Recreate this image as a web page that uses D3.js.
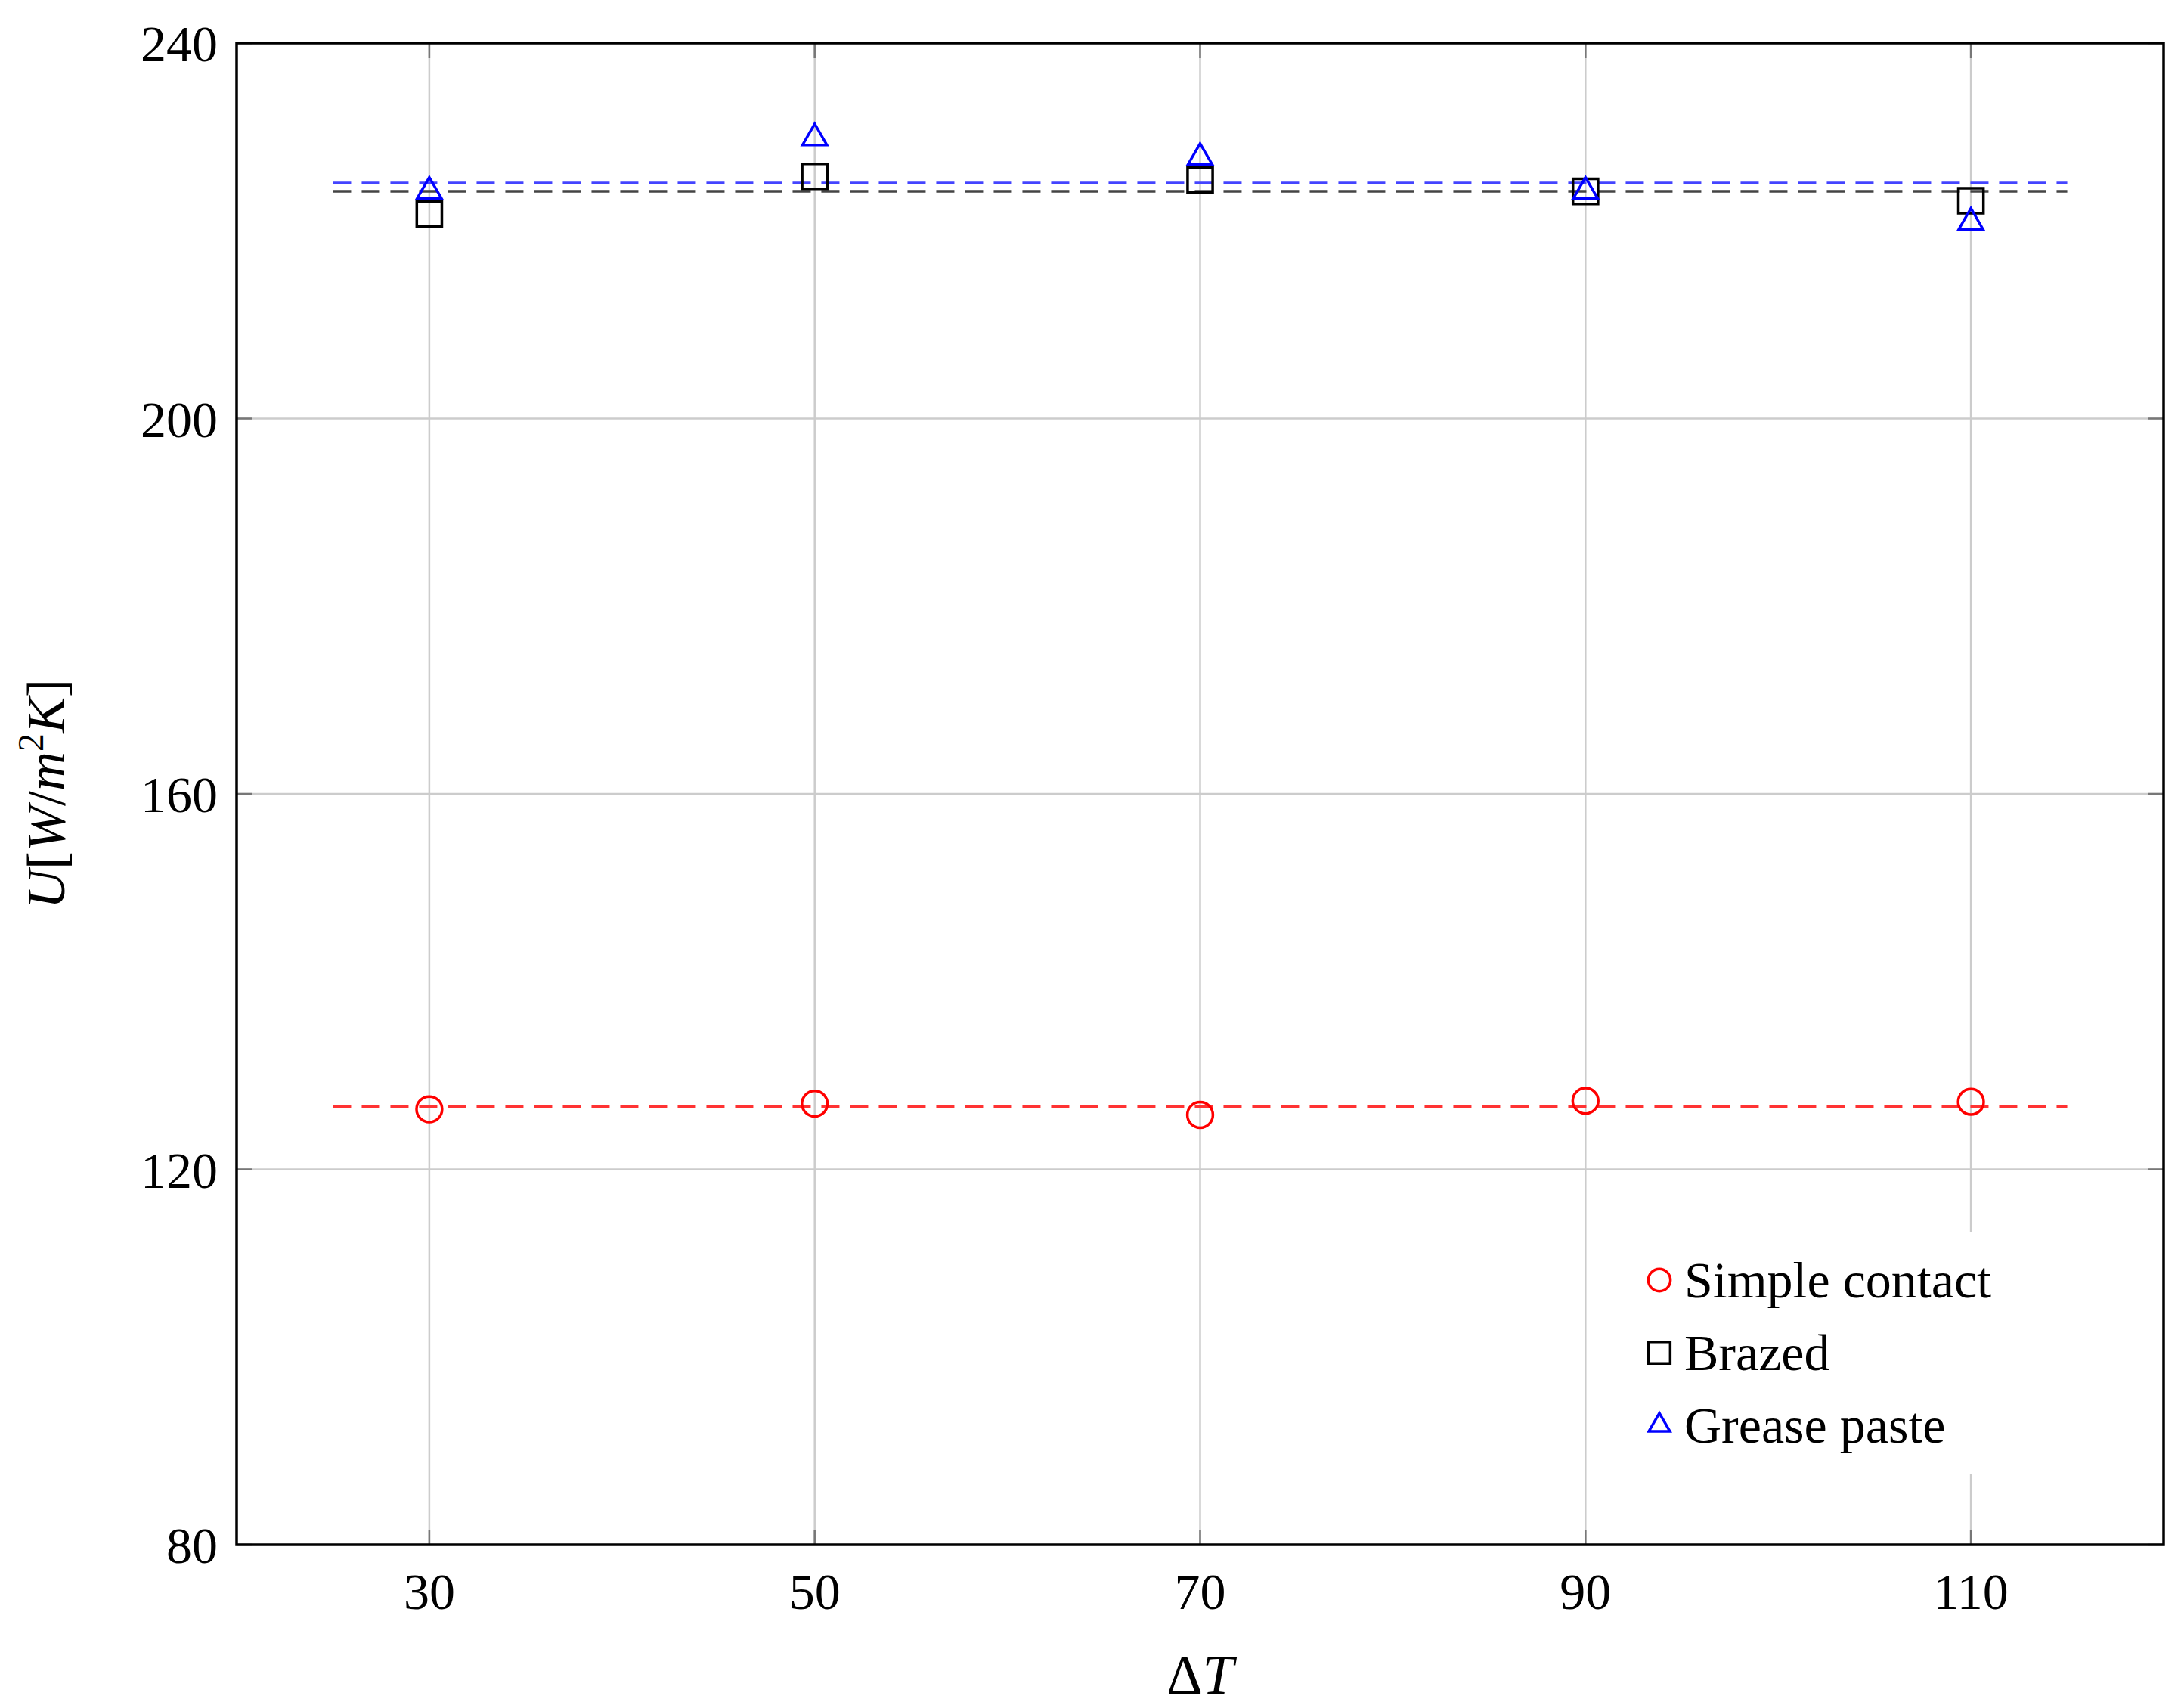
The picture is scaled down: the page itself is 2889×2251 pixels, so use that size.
<!DOCTYPE html>
<html><head><meta charset="utf-8">
<script src="https://cdn.jsdelivr.net/npm/d3@7"></script>
<style>body{margin:0;background:#fff}</style>
</head><body>
<script>
const W = 2889, H = 2251;
const xs = [30, 50, 70, 90, 110];
const simple = [126.4, 127.0, 125.8, 127.3, 127.2];
const brazed = [221.8, 225.8, 225.4, 224.2, 223.2];
const grease = [224.2, 229.9, 227.8, 224.2, 220.9];
const means = [126.7, 224.2, 225.1];
const names = ['Simple contact', 'Brazed', 'Grease paste'];
const colors = ['#ff0000', '#000000', '#0000ff'];
const yTicks = [80, 120, 160, 200, 240];

const m = {l: 313, r: 2862, t: 57, b: 2043};
const svg = d3.select('body').append('svg').attr('width', W).attr('height', H)
  .style('font-family', '"Liberation Serif", "DejaVu Serif", serif');
const x = d3.scaleLinear().domain([20, 120]).range([m.l, m.r]);
const y = d3.scaleLinear().domain([80, 240]).range([m.b, m.t]);

// grid
const g = svg.append('g');
g.selectAll('.gx').data(xs).enter().append('line')
  .attr('x1', d => x(d)).attr('x2', d => x(d)).attr('y1', m.t).attr('y2', m.b)
  .attr('stroke', '#cccccc').attr('stroke-width', 2.5);
g.selectAll('.gy').data(yTicks).enter().append('line')
  .attr('y1', d => y(d)).attr('y2', d => y(d)).attr('x1', m.l).attr('x2', m.r)
  .attr('stroke', '#cccccc').attr('stroke-width', 2.5);

// ticks inside, both sides
const tl = 20;
xs.forEach(d => {
  [[m.b, m.b - tl], [m.t, m.t + tl]].forEach(p => g.append('line')
    .attr('x1', x(d)).attr('x2', x(d)).attr('y1', p[0]).attr('y2', p[1])
    .attr('stroke', '#777').attr('stroke-width', 2.5));
});
yTicks.forEach(d => {
  [[m.l, m.l + tl], [m.r, m.r - tl]].forEach(p => g.append('line')
    .attr('y1', y(d)).attr('y2', y(d)).attr('x1', p[0]).attr('x2', p[1])
    .attr('stroke', '#777').attr('stroke-width', 2.5));
});

// mean lines
means.forEach((v, i) => {
  svg.append('line').attr('x1', x(25)).attr('x2', x(115))
    .attr('y1', y(v)).attr('y2', y(v))
    .attr('stroke', i === 0 ? '#ff3333' : i === 1 ? '#444' : '#4444ff')
    .attr('stroke-width', 3.5).attr('stroke-dasharray', '24,14');
});

const sym = [d3.symbolCircle, d3.symbolSquare, d3.symbolTriangle];
const sizes = [900, 1100, 450];
const series = [simple, brazed, grease];
series.forEach((s, i) => {
  svg.selectAll('.p' + i).data(s).enter().append('path')
    .attr('d', d3.symbol(sym[i], sizes[i]))
    .attr('transform', (d, j) => `translate(${x(xs[j])},${y(d)})`)
    .attr('fill', 'none').attr('stroke', colors[i]).attr('stroke-width', 3.5);
});

// frame
svg.append('rect').attr('x', m.l).attr('y', m.t).attr('width', m.r - m.l).attr('height', m.b - m.t)
  .attr('fill', 'none').attr('stroke', '#000').attr('stroke-width', 3.5);

// tick labels
svg.selectAll('.xl').data(xs).enter().append('text')
  .attr('x', d => x(d)).attr('y', m.b + 85).attr('text-anchor', 'middle')
  .attr('font-size', 68).text(d => d);
svg.selectAll('.yl').data(yTicks).enter().append('text')
  .attr('x', m.l - 25).attr('y', d => y(d) + 24).attr('text-anchor', 'end')
  .attr('font-size', 68).text(d => d);

// axis labels
svg.append('text').attr('x', x(70)).attr('y', 2240).attr('text-anchor', 'middle')
  .attr('font-size', 74).html('Δ<tspan font-style="italic">T</tspan>');
svg.append('text').attr('transform', `translate(85,${(m.t + m.b) / 2}) rotate(-90)`)
  .attr('text-anchor', 'middle').attr('font-size', 72)
  .html('<tspan font-style="italic">U</tspan>[<tspan font-style="italic">W</tspan>/<tspan font-style="italic">m</tspan><tspan dy="-28" font-size="48">2</tspan><tspan dy="28" font-style="italic">K</tspan>]');

// legend
const lg = svg.append('g');
lg.append('rect').attr('x', 2160).attr('y', 1630).attr('width', 560).attr('height', 320).attr('fill', '#fff');
names.forEach((n, i) => {
  const yy = 1693 + i * 96;
  lg.append('path').attr('d', d3.symbol(sym[i], sizes[i] * 0.75))
    .attr('transform', `translate(2195,${yy})`)
    .attr('fill', 'none').attr('stroke', colors[i]).attr('stroke-width', 3.5);
  lg.append('text').attr('x', 2228).attr('y', yy + 23).attr('font-size', 68).text(n);
});
</script>
</body></html>
